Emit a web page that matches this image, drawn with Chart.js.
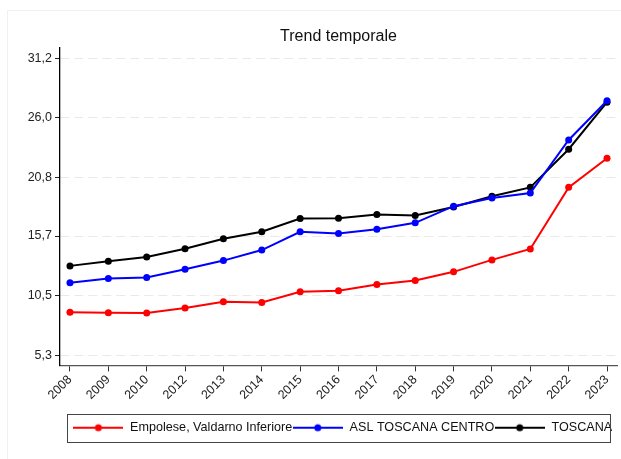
<!DOCTYPE html>
<html>
<head>
<meta charset="utf-8">
<script src="https://cdn.jsdelivr.net/npm/chart.js@4.4.0/dist/chart.umd.min.js"></script>
<style>
  html, body { margin: 0; padding: 0; background: #ffffff; }
</style>
</head>
<body>
<canvas id="canvas" width="621" height="459"></canvas>
<script>
// data
var years = ["2008", "2009", "2010", "2012", "2013", "2014", "2015", "2016", "2017", "2018", "2019", "2020", "2021", "2022", "2023"];
var empolese = [9.05, 9.02, 9.00, 9.43, 9.98, 9.92, 10.84, 10.93, 11.48, 11.82, 12.58, 13.62, 14.57, 19.94, 22.48];
var aslCentro = [11.62, 12.00, 12.08, 12.81, 13.56, 14.48, 16.07, 15.93, 16.30, 16.85, 18.30, 19.01, 19.45, 24.07, 27.48];
var toscana = [13.10, 13.50, 13.87, 14.60, 15.46, 16.07, 17.23, 17.25, 17.57, 17.49, 18.23, 19.16, 19.94, 23.26, 27.36];
var yTicks = [5.3, 10.5, 15.7, 20.8, 26.0, 31.2];
var seriesNames = ["Empolese, Valdarno Inferiore", "ASL TOSCANA CENTRO", "TOSCANA"];
var seriesColors = ["#ff0000", "#0000ff", "#000000"];

var FONT = "'Liberation Sans', Arial, sans-serif";

function toPoints(values) {
  return values.map(function (v, i) { return { x: i, y: v }; });
}

// small line + dot picture used as legend symbol
function legendSymbol(color) {
  var c = document.createElement("canvas");
  c.width = 50;
  c.height = 10;
  var ctx = c.getContext("2d");
  ctx.strokeStyle = color;
  ctx.lineWidth = 2;
  ctx.beginPath();
  ctx.moveTo(0, 5);
  ctx.lineTo(50, 5);
  ctx.stroke();
  ctx.fillStyle = color;
  ctx.beginPath();
  ctx.arc(25, 5, 3.5, 0, Math.PI * 2);
  ctx.fill();
  return c;
}

var frameAndLegendBox = {
  id: "frameAndLegendBox",
  afterLayout: function (chart) {
    // legend in the reference sits a few px right of centre
    chart.legend.left += 4;
    chart.legend.right += 4;
    chart.legend.top -= 1;
    chart.legend.bottom -= 1;
  },
  beforeDraw: function (chart) {
    var ctx = chart.ctx;
    ctx.save();
    ctx.fillStyle = "#ffffff";
    ctx.fillRect(0, 0, chart.width, chart.height);
    ctx.strokeStyle = "#eef2f2";   // faint outer frame
    ctx.lineWidth = 1;
    ctx.strokeRect(7.5, 10.5, 640, 470);
    ctx.restore();
  },
  afterDraw: function (chart) {
    var hb = chart.legend.legendHitBoxes;
    if (!hb || !hb.length) return;
    var first = hb[0], last = hb[hb.length - 1];
    var x0 = Math.round(first.left - 6);
    var x1 = Math.round(last.left + last.width - 2);
    var yc = first.top + first.height / 2;
    var ctx = chart.ctx;
    ctx.save();
    ctx.strokeStyle = "#444444";
    ctx.lineWidth = 1;
    ctx.strokeRect(x0 + 0.5, Math.round(yc - 14) + 0.5, x1 - x0, 28);
    ctx.restore();
  }
};

var datasets = [empolese, aslCentro, toscana].map(function (vals, k) {
  return {
    label: seriesNames[k],
    data: toPoints(vals),
    borderColor: seriesColors[k],
    backgroundColor: seriesColors[k],
    borderWidth: 2,
    pointRadius: 3.5,
    pointHoverRadius: 3.5,
    pointBorderWidth: 0,
    tension: 0
  };
});

var chart = new Chart(document.getElementById("canvas"), {
  type: "line",
  data: { datasets: datasets },
  plugins: [frameAndLegendBox],
  options: {
    responsive: false,
    animation: false,
    layout: { padding: { left: 0, right: 4, top: 0, bottom: 14 } },
    plugins: {
      tooltip: { enabled: false },
      title: {
        display: true,
        text: "Trend temporale",
        fullSize: false,
        color: "#111111",
        font: { family: FONT, size: 16, weight: "normal" },
        padding: { top: 27, bottom: 1 }
      },
      legend: {
        display: true,
        position: "bottom",
        fullSize: false,
        labels: {
          usePointStyle: true,
          pointStyleWidth: 51,
          padding: 0,
          color: "#111111",
          font: { family: FONT, size: 12.6 },
          generateLabels: function (ch) {
            return ch.data.datasets.map(function (ds, i) {
              return {
                text: ds.label,
                pointStyle: legendSymbol(seriesColors[i]),
                fillStyle: seriesColors[i],
                strokeStyle: seriesColors[i],
                lineWidth: 0,
                hidden: false,
                fontColor: "#111111",
                datasetIndex: i
              };
            });
          }
        }
      }
    },
    scales: {
      x: {
        type: "linear",
        min: -0.26,
        max: 14.26,
        afterBuildTicks: function (scale) {
          scale.ticks = years.map(function (y, i) { return { value: i }; });
        },
        afterFit: function (scale) { scale.height = 57; },
        ticks: {
          autoSkip: false,
          minRotation: 45,
          maxRotation: 45,
          padding: 1,
          color: "#222222",
          font: { family: FONT, size: 12.5 },
          callback: function (value) { return years[value]; }
        },
        grid: {
          drawOnChartArea: false,
          drawTicks: true,
          tickLength: 6,
          tickColor: "#333333",
          tickWidth: 1
        },
        border: { display: true, color: "#555555", width: 1.3 }
      },
      y: {
        type: "linear",
        min: 4.43,
        max: 32.15,
        afterBuildTicks: function (scale) {
          scale.ticks = yTicks.map(function (v) { return { value: v }; });
        },
        afterFit: function (scale) { scale.width = 60; },
        ticks: {
          padding: 3,
          color: "#222222",
          font: { family: FONT, size: 12.5 },
          callback: function (value) { return value.toFixed(1).replace(".", ","); }
        },
        grid: {
          drawOnChartArea: true,
          color: "#e9e9e9",
          lineWidth: 1,
          drawTicks: true,
          tickLength: 5,
          tickColor: "#222222",
          tickWidth: 1
        },
        border: { display: true, color: "#000000", width: 1.3, dash: [9, 5] }
      }
    }
  }
});
</script>
</body>
</html>
